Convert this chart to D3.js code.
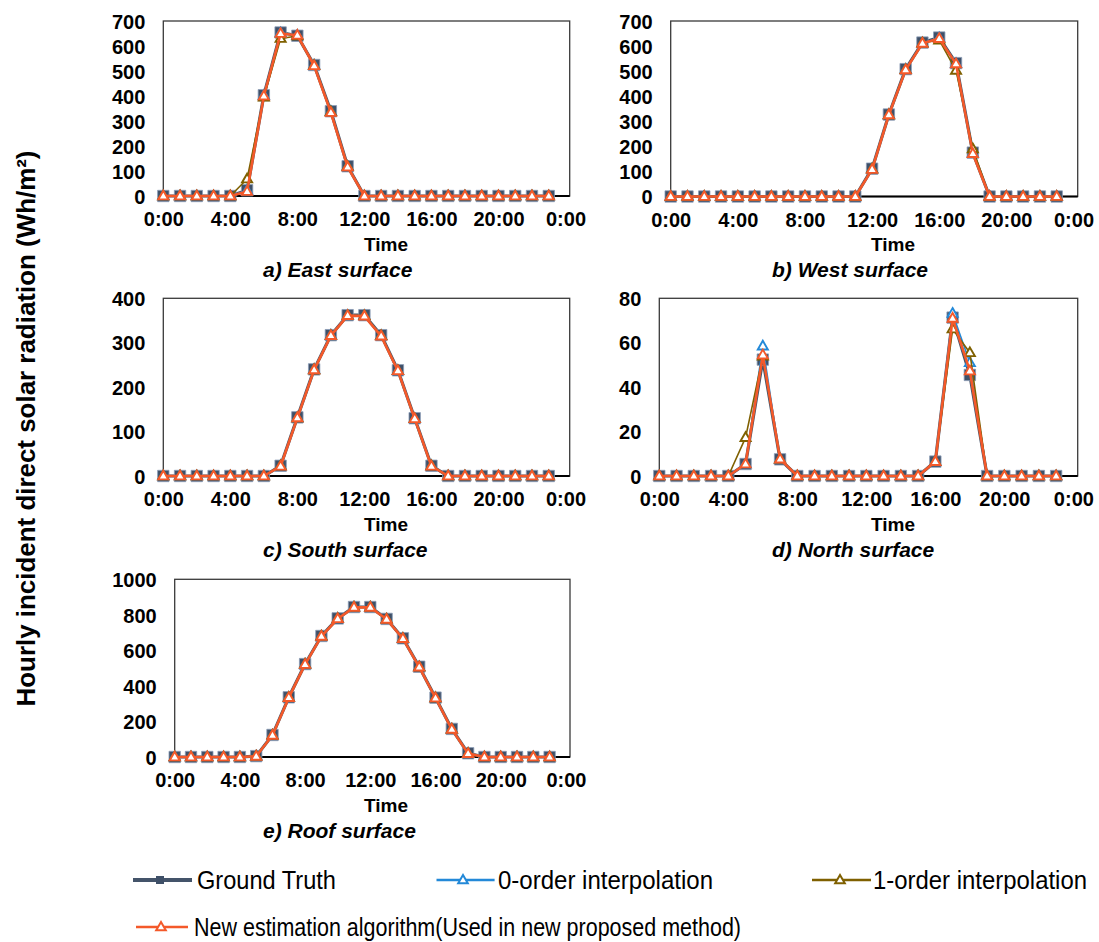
<!DOCTYPE html>
<html>
<head>
<meta charset="utf-8">
<script src="https://cdn.jsdelivr.net/npm/d3@7"></script>
<style>
  html, body { margin: 0; padding: 0; background: #ffffff; }
  svg { display: block; }
</style>
</head>
<body>
<svg id="chart" width="1099" height="942"></svg>
<script>
// ---------------- DATA ----------------
const hours = [0,1,2,3,4,5,6,7,8,9,10,11,12,13,14,15,16,17,18,19,20,21,22,23];
const xTickValues = [0, 4, 8, 12, 16, 20, 24];
const xTickLabels = ["0:00", "4:00", "8:00", "12:00", "16:00", "20:00", "0:00"];

const seriesNames = ["Ground Truth", "0-order interpolation", "1-order interpolation",
  "New estimation algorithm(Used in new proposed method)"];

// a) East surface
const eastTicks = [0, 100, 200, 300, 400, 500, 600, 700];
const eastGT    = [0,0,0,0,0,23,403,654,641,524,339,119,0,0,0,0,0,0,0,0,0,0,0,0];
const eastZero  = [0,0,0,0,0,22,402,652,642,523,338,118,0,0,0,0,0,0,0,0,0,0,0,0];
const eastFirst = [0,0,0,0,0,68,395,630,640,522,337,118,0,0,0,0,0,0,0,0,0,0,0,0];
const eastNew   = [0,0,0,0,0,18,400,650,643,521,334,116,0,0,0,0,0,0,0,0,0,0,0,0];

// b) West surface
const westTicks = [0, 100, 200, 300, 400, 500, 600, 700];
const westGT    = [0,0,0,0,0,0,0,0,0,0,0,0,111,327,508,614,634,532,175,0,0,0,0,0];
const westZero  = [0,0,0,0,0,0,0,0,0,0,0,0,110,326,507,612,632,530,173,0,0,0,0,0];
const westFirst = [0,0,0,0,0,0,0,0,0,0,0,0,110,326,506,612,624,503,190,0,0,0,0,0];
const westNew   = [0,0,0,0,0,0,0,0,0,0,0,0,108,326,505,611,630,529,171,0,0,0,0,0];

// c) South surface
const southTicks = [0, 100, 200, 300, 400];
const southGT    = [0,0,0,0,0,0,0,23,132,240,317,362,362,317,238,130,23,0,0,0,0,0,0,0];
const southZero  = [0,0,0,0,0,0,0,23,131,240,317,361,361,316,237,129,23,0,0,0,0,0,0,0];
const southFirst = [0,0,0,0,0,0,0,23,131,239,316,361,361,316,237,129,23,0,0,0,0,0,0,0];
const southNew   = [0,0,0,0,0,0,0,22,131,239,316,361,360,315,237,129,22,0,0,0,0,0,0,0];

// d) North surface
const northTicks = [0, 20, 40, 60, 80];
const northGT    = [0,0,0,0,0,5.4,52.4,7.5,0,0,0,0,0,0,0,0,6.5,71.3,45.5,0,0,0,0,0];
const northZero  = [0,0,0,0,0,5.4,58.5,7.5,0,0,0,0,0,0,0,0,6.5,73.2,51,0,0,0,0,0];
const northFirst = [0,0,0,0,0,17.3,54,7.6,0,0,0,0,0,0,0,0,6.5,66.2,55.5,0,0,0,0,0];
const northNew   = [0,0,0,0,0,5.4,54.5,7.6,0,0,0,0,0,0,0,0,6.5,71,47.3,0,0,0,0,0];

// e) Roof surface
const roofTicks = [0, 200, 400, 600, 800, 1000];
const roofGT    = [0,0,0,0,0,5,124,336,523,681,780,844,844,777,668,508,334,158,21,0,0,0,0,0];
const roofZero  = [0,0,0,0,0,5,123,335,522,680,779,843,843,776,667,507,333,157,20,0,0,0,0,0];
const roofFirst = [0,0,0,0,0,5,123,335,522,680,779,843,843,776,667,507,333,157,20,0,0,0,0,0];
const roofNew   = [0,0,0,0,0,4,122,334,521,679,778,842,842,775,666,506,332,156,19,0,0,0,0,0];

const panelTitles = ["a) East surface", "b) West surface", "c) South surface",
  "d) North surface", "e) Roof surface"];

// ---------------- STYLE / LAYOUT ----------------
const colors = ["#44546A", "#2389D8", "#7F6000", "#F4592A"];
const lineWidths = [3.2, 1.6, 1.6, 2.6];

const panels = [
  { title: panelTitles[0], ticks: eastTicks,  series: [eastGT, eastZero, eastFirst, eastNew],
    left: 163.3, right: 569.7, top: 21, bottom: 196, timeX: 386, titleX: 263 },
  { title: panelTitles[1], ticks: westTicks,  series: [westGT, westZero, westFirst, westNew],
    left: 670.7, right: 1077.7, top: 21, bottom: 196.5, timeX: 893, titleX: 772 },
  { title: panelTitles[2], ticks: southTicks, series: [southGT, southZero, southFirst, southNew],
    left: 163.3, right: 569.7, top: 298.3, bottom: 476, timeX: 386, titleX: 263 },
  { title: panelTitles[3], ticks: northTicks, series: [northGT, northZero, northFirst, northNew],
    left: 659.3, right: 1077.7, top: 298.3, bottom: 476, timeX: 893, titleX: 772 },
  { title: panelTitles[4], ticks: roofTicks,  series: [roofGT, roofZero, roofFirst, roofNew],
    left: 174.7, right: 570, top: 579.3, bottom: 757, timeX: 386, titleX: 263 }
];

const svg = d3.select("#chart");
svg.append("rect").attr("width", 1099).attr("height", 942).attr("fill", "#ffffff");

const sqSym = d3.symbol().type(d3.symbolSquare).size(130);
const triSym = d3.symbol().type(d3.symbolTriangle).size(44);

panels.forEach(p => {
  const g = svg.append("g");
  const x = d3.scaleLinear().domain([0, 24.25]).range([p.left, p.right]);
  const yMax = p.ticks[p.ticks.length - 1];
  const y = d3.scaleLinear().domain([0, yMax]).range([p.bottom, p.top]);

  // frame
  g.append("rect")
    .attr("x", p.left).attr("y", p.top)
    .attr("width", p.right - p.left).attr("height", p.bottom - p.top)
    .attr("fill", "none").attr("stroke", "#3a3a3a").attr("stroke-width", 1.3);
  g.append("line")
    .attr("x1", p.left).attr("x2", p.right)
    .attr("y1", p.bottom).attr("y2", p.bottom)
    .attr("stroke", "#000").attr("stroke-width", 1.8);

  // axes
  const yAxis = d3.axisLeft(y).tickValues(p.ticks).tickFormat(d3.format("d"))
    .tickSize(0).tickPadding(18);
  const ya = g.append("g").attr("transform", `translate(${p.left},0)`).call(yAxis);
  ya.select(".domain").remove();
  ya.selectAll("text")
    .attr("font-family", "Liberation Sans, Arial, sans-serif")
    .attr("font-weight", "bold").attr("font-size", 20).attr("fill", "#000")
    .attr("dy", "0.36em");

  const xAxis = d3.axisBottom(x).tickValues(xTickValues)
    .tickFormat((d, i) => xTickLabels[i]).tickSize(0).tickPadding(16);
  const xa = g.append("g").attr("transform", `translate(0,${p.bottom})`).call(xAxis);
  xa.select(".domain").remove();
  xa.selectAll("text")
    .attr("font-family", "Liberation Sans, Arial, sans-serif")
    .attr("font-weight", "bold").attr("font-size", 20).attr("fill", "#000");

  // axis title
  g.append("text")
    .attr("x", p.timeX).attr("y", p.bottom + 48).attr("dy", "0.35em")
    .attr("text-anchor", "middle")
    .attr("font-family", "Liberation Sans, Arial, sans-serif")
    .attr("font-weight", "bold").attr("font-size", 19).attr("fill", "#000")
    .text("Time");

  // panel title
  g.append("text")
    .attr("x", p.titleX).attr("y", p.bottom + 73.5).attr("dy", "0.35em")
    .attr("text-anchor", "start")
    .attr("font-family", "Liberation Sans, Arial, sans-serif")
    .attr("font-weight", "bold").attr("font-style", "italic")
    .attr("font-size", 21).attr("fill", "#000")
    .text(p.title);

  // series
  const line = d3.line().x((d, i) => x(hours[i])).y(d => y(d));
  p.series.forEach((vals, si) => {
    g.append("path").datum(vals)
      .attr("d", line)
      .attr("fill", "none")
      .attr("stroke", colors[si])
      .attr("stroke-width", lineWidths[si])
      .attr("stroke-linejoin", "round");
    const mk = g.append("g");
    vals.forEach((v, i) => {
      if (si === 0) {
        mk.append("path").attr("d", sqSym())
          .attr("transform", `translate(${x(hours[i])},${y(v)})`)
          .attr("fill", "#3F5068").attr("stroke", "#8A9CB6").attr("stroke-width", 0.8);
      } else {
        mk.append("path").attr("d", triSym())
          .attr("transform", `translate(${x(hours[i])},${y(v) + 0.5})`)
          .attr("fill", "#ffffff").attr("stroke", colors[si]).attr("stroke-width", 1.9);
      }
    });
  });
});

// y-axis title
svg.append("text")
  .attr("transform", "translate(35,428.5) rotate(-90)")
  .attr("text-anchor", "middle")
  .attr("font-family", "Liberation Sans, Arial, sans-serif")
  .attr("font-weight", "bold").attr("font-size", 25).attr("fill", "#000")
  .attr("textLength", 556).attr("lengthAdjust", "spacingAndGlyphs")
  .text("Hourly incident direct solar radiation (Wh/m²)");

// legend
const legendItems = [
  { name: seriesNames[0], x1: 133, x2: 192, mx: 160, tx: 197, tw: 139, y: 880 },
  { name: seriesNames[1], x1: 436.5, x2: 494.6, mx: 463, tx: 498, tw: 215, y: 880 },
  { name: seriesNames[2], x1: 812, x2: 871, mx: 840, tx: 873, tw: 214, y: 880 },
  { name: seriesNames[3], x1: 136, x2: 188, mx: 161, tx: 194, tw: 547, y: 927 }
];
legendItems.forEach((it, si) => {
  const lg = svg.append("g");
  lg.append("line").attr("x1", it.x1).attr("x2", it.x2).attr("y1", it.y).attr("y2", it.y)
    .attr("stroke", colors[si]).attr("stroke-width", si === 0 ? 4 : 2.6);
  if (si === 0) {
    lg.append("path").attr("d", d3.symbol().type(d3.symbolSquare).size(64)())
      .attr("transform", `translate(${it.mx},${it.y})`).attr("fill", "#3F5068");
  } else {
    lg.append("path").attr("d", d3.symbol().type(d3.symbolTriangle).size(40)())
      .attr("transform", `translate(${it.mx},${it.y + 0.5})`)
      .attr("fill", "#ffffff").attr("stroke", colors[si]).attr("stroke-width", 2);
  }
  lg.append("text")
    .attr("x", it.tx).attr("y", it.y).attr("dy", "0.36em")
    .attr("font-family", "Liberation Sans Narrow, Arial Narrow, Liberation Sans, Arial, sans-serif")
    .attr("font-size", 25).attr("fill", "#000")
    .attr("textLength", it.tw).attr("lengthAdjust", "spacingAndGlyphs")
    .text(it.name);
});
</script>
</body>
</html>
